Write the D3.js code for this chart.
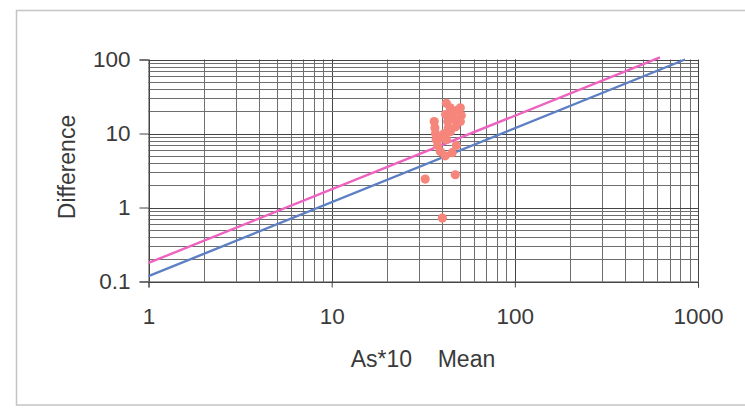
<!DOCTYPE html>
<html><head><meta charset="utf-8">
<script src="https://cdn.jsdelivr.net/npm/d3@7"></script>
<style>
html,body{margin:0;padding:0;background:#fff;}
svg{display:block;}
text{font-family:"Liberation Sans",Arial,sans-serif;fill:#3a3a3a;}
</style></head>
<body>
<svg id="chart" width="745" height="409"></svg>
<script>
// ---- data ----
const meanValues = [32.4, 40.2, 47.3,
  36.3, 36.6, 36.9, 37.2, 37.9,
  39.2, 41.7, 45.5, 47.9,
  42.3, 44.4, 41.9, 45.5, 50.4, 51.0, 43.0, 46.9, 43.3, 47.5, 41.2, 44.4, 42.3, 39.8, 50.4, 48.5, 44.0];
const diffValues = [2.42, 0.72, 2.77,
  14.5, 12.0, 10.0, 8.3, 6.9,
  5.7, 5.0, 5.5, 6.9,
  25.6, 22.3, 18.0, 19.8, 22.3, 17.5, 14.5, 15.5, 12.0, 12.3, 10.0, 10.6, 8.3, 8.8, 14.5, 20.5, 16.0];
const blueLineX = [1, 850];
const blueLineY = [0.118, 100];
const pinkLineX = [1, 620];
const pinkLineY = [0.178, 107];
const xTickLabels = ["1", "10", "100", "1000"];
const yTickLabels = ["0.1", "1", "10", "100"];
const xAxisTitle = "As*10    Mean";
const yAxisTitle = "Difference";

// ---- layout ----
const svg = d3.select("#chart");
const pL = 148.5, pT = 59.5, pR = 698, pB = 281.5;

svg.append("rect").attr("x", 16.5).attr("y", 10.5).attr("width", 740).attr("height", 394.5)
  .attr("fill", "#fff").attr("stroke", "#c4c4c4").attr("stroke-width", 1.5);

const x = d3.scaleLog().domain([1, 1000]).range([pL, pR]);
const y = d3.scaleLog().domain([0.1, 100]).range([pB, pT]);

// grid
const minorX = [], minorY = [];
for (let d = 1; d < 1000; d *= 10) for (let k = 1; k <= 10; k++) minorX.push(d * k);
for (let d = 0.1; d < 100; d *= 10) for (let k = 1; k <= 10; k++) minorY.push(+(d * k).toPrecision(3));

const g = svg.append("g");
g.selectAll(".gx").data(minorX).enter().append("line")
  .attr("x1", d => Math.round(x(d)) + 0.5).attr("x2", d => Math.round(x(d)) + 0.5)
  .attr("y1", pT).attr("y2", pB)
  .attr("stroke", d => [1, 10, 100, 1000].includes(d) ? "#444" : "#6e6e6e").attr("stroke-width", 1);
g.selectAll(".gy").data(minorY).enter().append("line")
  .attr("y1", d => Math.round(y(d)) + 0.5).attr("y2", d => Math.round(y(d)) + 0.5)
  .attr("x1", pL).attr("x2", pR)
  .attr("stroke", d => [0.1, 1, 10, 100].includes(d) ? "#444" : "#6e6e6e").attr("stroke-width", 1);

// axes
const xAxis = d3.axisBottom(x).tickValues([1, 10, 100, 1000]).tickFormat((d, i) => xTickLabels[i]).tickSize(6).tickPadding(21);
const gx = svg.append("g").attr("transform", `translate(0,${pB})`).call(xAxis);
gx.select(".domain").attr("stroke", "#444");
gx.selectAll(".tick line").attr("stroke", "#444");
gx.selectAll("text").style("font-size", "22.5px").attr("fill", "#3a3a3a");

const yAxis = d3.axisLeft(y).tickValues([0.1, 1, 10, 100]).tickFormat((d, i) => yTickLabels[i]).tickSize(9).tickPadding(9);
const gy = svg.append("g").attr("transform", `translate(${pL},0)`).call(yAxis);
gy.select(".domain").attr("stroke", "#444");
gy.selectAll(".tick line").attr("stroke", "#444");
gy.selectAll("text").style("font-size", "22.5px").attr("fill", "#3a3a3a");

// lines
const line = d3.line().x(d => x(d[0])).y(d => y(d[1]));
svg.append("path").datum(blueLineX.map((v, i) => [v, blueLineY[i]]))
  .attr("d", line).attr("fill", "none").attr("stroke", "#5d7fc4").attr("stroke-width", 2.4);
svg.append("path").datum(pinkLineX.map((v, i) => [v, pinkLineY[i]]))
  .attr("d", line).attr("fill", "none").attr("stroke", "#ee62c0").attr("stroke-width", 2.4);

// points
svg.append("g").selectAll("circle").data(meanValues.map((v, i) => [v, diffValues[i]])).enter()
  .append("circle").attr("cx", d => x(d[0])).attr("cy", d => y(d[1])).attr("r", 4.6)
  .attr("fill", "#f6857b");

// titles
svg.append("text").attr("x", 423).attr("y", 367).attr("text-anchor", "middle")
  .style("font-size", "23px").style("white-space", "pre").text(xAxisTitle);
svg.append("text").attr("transform", "translate(75,167) rotate(-90)").attr("text-anchor", "middle")
  .style("font-size", "23px").text(yAxisTitle);
</script>
</body></html>
